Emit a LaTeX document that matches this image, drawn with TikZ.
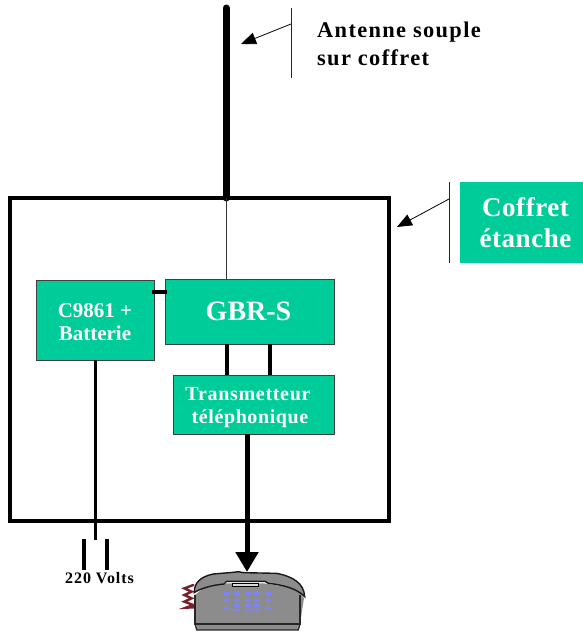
\documentclass[tikz,border=0pt]{standalone}
\usepackage{fontspec}
\setmainfont{Liberation Serif}
\usetikzlibrary{arrows.meta}
\definecolor{boxgreen}{HTML}{00CC99}
\definecolor{phonegrey}{HTML}{8C8C8C}
\definecolor{keyblue}{HTML}{7C84F8}
\definecolor{cordred}{HTML}{7A1F2B}
\newcommand{\dropline}[2]{\raisebox{-#1}[\height][\depth]{#2}}
\tikzset{
  x=1pt,y=-1pt,
  greenbox/.style={draw=black!75,line width=1pt,outer sep=0pt,fill=boxgreen,text=white,font=\bfseries,inner sep=0pt,align=center,anchor=north west},
  caption/.style={inner sep=0pt,align=left,anchor=north west,font=\bfseries},
  thinwire/.style={line width=1pt,draw=black!80},
  wire/.style={line width=3pt},
  thickwire/.style={line width=4.5pt},
  tick/.style={line width=0.9pt,draw=black!85},
  pointer/.style={line width=0.8pt,-{Triangle[length=15pt,width=12pt]}},
}
\begin{document}
\begin{tikzpicture}
\useasboundingbox (0,0) rectangle (583,632);
% outer casing
\node[draw,line width=3.6pt,outer sep=0pt,minimum width=379pt,minimum height=323pt,inner sep=0pt,anchor=north west] (coffret) at (10,198) {};
% boxes
\node[greenbox,minimum width=118pt,minimum height=80pt,font=\bfseries\fontsize{21}{23}\selectfont] (c9861) at (36,280) {\dropline{2.5pt}{C9861 +}\\\dropline{2.5pt}{Batterie}};
\node[greenbox,minimum width=169pt,minimum height=65pt,font=\bfseries\fontsize{28}{30}\selectfont] (gbr) at (165,279) {GBR-S\hspace*{2pt}};
\node[greenbox,minimum width=161pt,minimum height=59pt,font=\bfseries\fontsize{20}{23}\selectfont] (trans) at (173,375) {\dropline{3pt}{\addfontfeature{LetterSpace=3.5}Transmetteur}\hspace*{11pt}\\\dropline{3pt}{\addfontfeature{LetterSpace=3}téléphonique}\hspace*{7pt}};
\node[draw=none,outer sep=0pt,fill=boxgreen,text=white,inner sep=0pt,align=center,anchor=north west,minimum width=123pt,minimum height=81pt,font=\bfseries\fontsize{27}{31.5}\selectfont] (etanche) at (460,182) {\hspace*{8pt}\addfontfeature{LetterSpace=2}Coffret\\\hspace*{8pt}\addfontfeature{LetterSpace=2}étanche};
% captions
\node[caption,font=\bfseries\fontsize{22.4}{28}\selectfont] (antlabel) at (317,22) {\addfontfeature{LetterSpace=6}Antenne souple\\\addfontfeature{LetterSpace=6}sur coffret};
\node[inner sep=0pt,font=\bfseries\fontsize{16}{16}\selectfont] (volts) at (99.5,578) {\addfontfeature{LetterSpace=6}220 Volts};
% coordinates
\coordinate (anttop) at (226,8);
\coordinate (antbase) at (226,198);
\coordinate (gbrtop) at (226,279);
\coordinate (tick1a) at (291,8);
\coordinate (tick1b) at (291,78);
\coordinate (tick1m) at (291,24);
\coordinate (ant1tip) at (241,44);
\coordinate (tick2a) at (449,182);
\coordinate (tick2b) at (449,263);
\coordinate (tick2m) at (449,199);
\coordinate (box2tip) at (397,227);
\coordinate (c9861out) at (95,360);
\coordinate (mains) at (95,540);
\coordinate (plugLa) at (84,539);
\coordinate (plugLb) at (84,570);
\coordinate (plugRa) at (107,539);
\coordinate (plugRb) at (107,570);
\coordinate (phonetop) at (247,572);
% connectors
\draw[line width=7pt,line cap=round] (anttop) -- (antbase);
\draw[thinwire] (antbase) -- (gbrtop);
\draw[tick] (tick1a) -- (tick1b);
\draw[pointer] (tick1m) -- (ant1tip);
\draw[tick] (tick2a) -- (tick2b);
\draw[pointer] (tick2m) -- (box2tip);
\draw[line width=4pt] (152,292) coordinate (cg1) -- (167,292) coordinate (cg2);
\draw[thickwire] (gbr.south -| 227,0) -- (trans.north -| 227,0);
\draw[thickwire] (gbr.south -| 270,0) -- (trans.north -| 270,0);
\draw[wire] (c9861out) -- (mains);
\draw[wire,line width=3.4pt] (plugLa) -- (plugLb);
\draw[wire,line width=3.4pt] (plugRa) -- (plugRb);
\draw[line width=5pt,-{Triangle[length=20pt,width=22pt]}] (trans.south -| 247,0) -- (phonetop);
% telephone, in zoomed coordinates
\begin{scope}[shift={(150,520)},x=0.3333pt,y=-0.3333pt]
 \draw[cordred,line width=2.4pt,line cap=round]
   (130,195) -- (103,205) -- (125,215) -- (103,225) -- (125,235) -- (103,245) -- (130,255) -- (108,263) -- (132,262);
 \fill[phonegrey] (135,225) -- (135,312) -- (140,330) -- (445,330) -- (450,312) -- (462,235) -- (440,205) -- (340,190) -- (230,190) -- (160,205) -- cycle;
 \draw[black!85,line width=1.2pt] (135,225) -- (135,312) -- (450,312) -- (450,225);
 \draw[black!85,line width=1.2pt] (135,312) -- (140,330) -- (445,330) -- (450,312);
 \fill[phonegrey] (133,218) .. controls (132,190) and (150,170) .. (190,162) -- (250,157) -- (265,155) -- (280,158) -- (380,160) .. controls (430,170) and (462,190) .. (464,230) .. controls (440,205) and (400,195) .. (355,190) -- (345,184) -- (230,184) -- (222,192) .. controls (190,195) and (150,205) .. (133,218) -- cycle;
 \draw[black!90,line width=1.4pt] (133,218) .. controls (132,190) and (150,170) .. (190,162) -- (250,157) -- (265,155) -- (280,158) -- (380,160) .. controls (430,170) and (462,190) .. (464,230) .. controls (440,205) and (400,195) .. (355,190) -- (345,184) -- (230,184) -- (222,192) .. controls (190,195) and (150,205) .. (133,218) -- cycle;
 \fill[black!15] (248,192) rectangle (325,199);
 \draw[black,line width=1pt] (248,190) rectangle (325,200);
 \foreach \kx/\ky in {232/221,262/221,294/221,322/221,354/221,232/241,262/241,294/241,322/241,354/241,232/266,262/256,294/256,322/256,262/270,294/270,322/270,354/266}
   \fill[keyblue] (\kx-9,\ky-4) rectangle (\kx+9,\ky+4);
\end{scope}
\end{tikzpicture}
\end{document}
